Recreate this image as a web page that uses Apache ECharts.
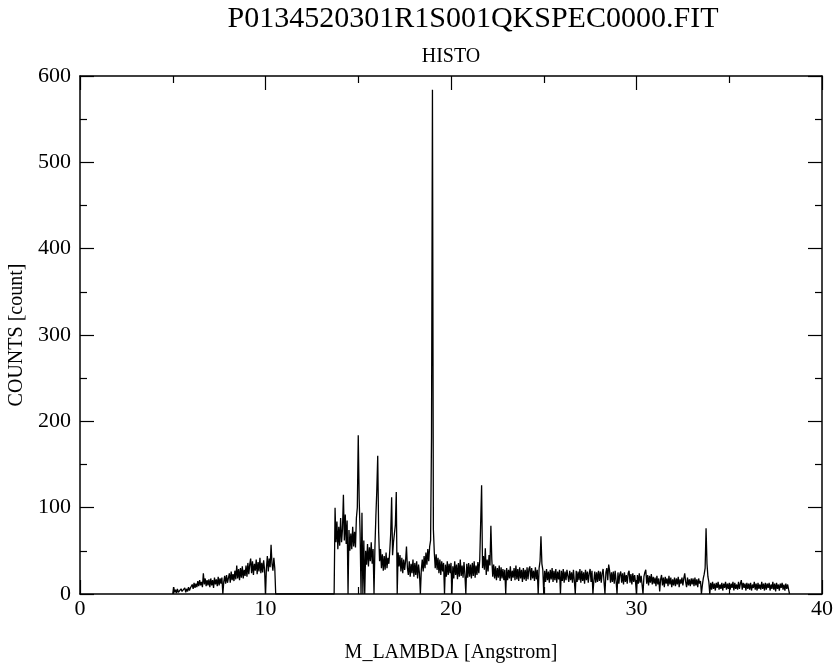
<!DOCTYPE html>
<html>
<head>
<meta charset="utf-8">
<script src="https://cdn.jsdelivr.net/npm/echarts@6/dist/echarts.min.js"></script>
<style>html,body{margin:0;padding:0;background:#fff}#c{width:833px;height:664px}</style>
</head>
<body>
<div id="c"></div>
<script>
const titleText = "P0134520301R1S001QKSPEC0000.FIT";
const subtitleText = "HISTO";
const xName = "M_LAMBDA [Angstrom]";
const yName = "COUNTS [count]";
const xTicks = [0, 10, 20, 30, 40];
const yTicks = [0, 100, 200, 300, 400, 500, 600];
const lambdaStart = 5.0;   // Angstrom, first bin
const lambdaStep = 0.05;   // Angstrom per bin
// counts per bin, one row per Angstrom (5.00 ... 5.95, 6.00 ... )
const counts = [
  0,8,2,5,1,6,2,4,0,6,3,5,1,7,2,6,3,8,4,7,                    // 5
  5,11,6,13,7,12,8,15,9,16,10,14,8,24,11,18,9,16,10,17,       // 6
  8,18,10,16,7,19,11,17,9,20,10,18,12,19,0,14,21,12,22,13,    // 7
  14,24,13,26,16,23,15,27,17,33,18,29,16,30,19,32,18,28,21,33, // 8
  20,36,23,34,41,24,38,22,35,27,40,23,37,26,42,24,36,25,39,28, // 9
  0,30,44,26,41,31,57,35,27,42,30,0,0,0,0,0,0,0,0,0,          // 10
  0,0,0,0,0,0,0,0,0,0,0,0,0,0,0,0,0,0,0,0,                    // 11
  0,0,0,0,0,0,0,0,0,0,0,0,0,0,0,0,0,0,0,0,                    // 12
  0,0,0,0,0,0,0,0,0,0,0,0,0,0,0,100,60,84,52,78,              // 13
  56,88,60,75,115,62,92,58,85,0,74,50,70,52,78,55,72,54,88,100, // 14
  184,110,70,0,94,0,62,0,50,34,58,32,54,38,60,35,52,0,55,90,  // 15
  120,160,72,38,52,30,46,27,44,28,48,30,42,35,50,70,112,45,60,62, // 16
  80,118,0,48,32,45,26,42,24,40,28,38,55,30,22,38,20,35,24,40, // 17
  20,36,22,38,18,34,24,0,28,40,26,44,30,48,34,52,38,55,62,183, // 18
  584,75,48,30,46,28,42,24,40,22,38,26,36,0,34,20,38,22,35,24, // 19
  36,0,32,18,38,22,34,17,36,20,40,21,33,19,37,22,0,35,19,36,  // 20
  20,34,18,36,21,38,19,33,22,37,24,40,38,126,30,44,28,53,22,40, // 21
  26,45,33,79,40,20,34,18,32,16,30,19,33,15,31,18,29,16,28,0, // 22
  30,16,28,18,32,15,27,19,30,16,33,17,29,15,31,18,28,14,30,17, // 23
  28,15,31,17,29,32,16,30,18,27,15,31,17,28,0,30,38,67,35,28, // 24
  0,27,14,29,16,26,13,28,17,30,14,27,16,29,13,26,17,28,0,27,  // 25
  15,29,13,26,16,28,30,14,27,16,25,13,28,15,0,27,14,26,16,29, // 26
  13,27,15,25,12,28,16,26,13,24,29,14,27,0,15,26,13,25,14,27, // 27
  15,26,13,24,29,14,0,25,30,16,34,27,13,25,14,26,12,27,15,0,  // 28
  25,12,23,26,13,24,11,25,14,22,12,24,27,13,23,11,24,14,22,13, // 29
  0,22,12,24,13,21,11,0,20,25,28,12,22,10,21,13,23,11,20,12,  // 30
  19,9,21,11,18,3,17,22,10,19,8,20,12,18,9,21,11,19,8,17,     // 31
  10,19,9,18,11,20,8,17,12,19,10,18,24,14,8,19,10,17,9,18,    // 32
  11,18,9,19,10,17,8,18,12,15,0,10,18,23,30,76,35,20,14,0,    // 33
  13,5,14,6,12,4,13,7,14,5,11,6,13,4,12,7,14,5,12,6,          // 34
  13,5,12,7,14,4,13,6,11,5,14,6,12,16,5,13,7,12,4,13,         // 35
  6,12,5,13,4,11,7,14,5,12,4,13,6,11,5,14,6,12,4,13,          // 36
  5,12,7,13,4,11,6,14,5,12,3,13,6,11,4,12,7,13,5,11,          // 37
  4,12,6,11,5,0                                               // 38
];

const seriesData = counts.map((c, i) => [Math.round((lambdaStart + i * lambdaStep) * 100) / 100, c]);

const FONT = "'Liberation Serif', 'DejaVu Serif', serif";
const black = '#000';

function axisBase(extra) {
  return Object.assign({
    type: 'value',
    axisLine: { show: true, onZero: false, lineStyle: { color: black, width: 1.5 } },
    axisTick: { show: true, inside: true, length: 14, lineStyle: { color: black, width: 1.2 } },
    minorTick: { show: true, splitNumber: 2, length: 7, lineStyle: { color: black, width: 1.2 } },
    splitLine: { show: false },
    minorSplitLine: { show: false }
  }, extra);
}

const chart = echarts.init(document.getElementById('c'), null, { renderer: 'canvas' });
chart.setOption({
  animation: false,
  backgroundColor: '#fff',
  grid: { left: 80, right: 11, top: 76, bottom: 70, containLabel: false, outerBoundsMode: 'none' },
  graphic: [
    { type: 'text', x: 473, y: 4, style: { text: titleText, font: "30px " + FONT, fill: black, textAlign: 'center' } },
    { type: 'text', x: 451, y: 47, style: { text: subtitleText, font: "20px " + FONT, fill: black, textAlign: 'center' } }
  ],
  xAxis: [
    axisBase({
      position: 'bottom', min: xTicks[0], max: xTicks[xTicks.length - 1], interval: 10,
      name: xName, nameLocation: 'middle', nameGap: 49,
      nameTextStyle: { fontFamily: FONT, fontSize: 20, color: black },
      axisLabel: { show: true, margin: 4, fontFamily: FONT, fontSize: 22, color: black }
    }),
    axisBase({
      position: 'top', min: xTicks[0], max: xTicks[xTicks.length - 1], interval: 10,
      axisLabel: { show: false }
    })
  ],
  yAxis: [
    axisBase({
      position: 'left', min: yTicks[0], max: yTicks[yTicks.length - 1], interval: 100,
      name: yName, nameLocation: 'middle', nameGap: 46, nameRotate: 90,
      nameTextStyle: { fontFamily: FONT, fontSize: 20, color: black },
      axisLabel: { show: true, margin: 9, fontFamily: FONT, fontSize: 22, color: black }
    }),
    axisBase({
      position: 'right', min: yTicks[0], max: yTicks[yTicks.length - 1], interval: 100,
      axisLabel: { show: false }
    })
  ],
  series: [{
    type: 'line',
    xAxisIndex: 0,
    yAxisIndex: 0,
    data: seriesData,
    showSymbol: false,
    symbol: 'none',
    sampling: null,
    lineStyle: { color: black, width: 1.3 },
    clip: true
  }]
});
</script>
</body>
</html>
